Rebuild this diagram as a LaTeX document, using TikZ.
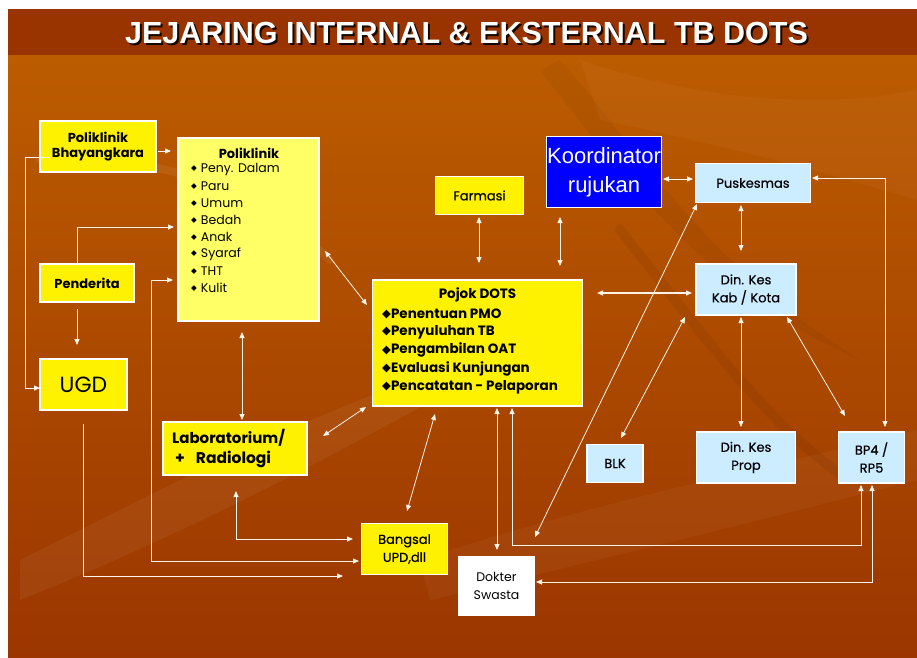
\documentclass[tikz,border=0pt]{standalone}
\usepackage{fontspec}
\setmainfont{Poppins}
\newfontfamily\popmed[FakeBold=0.5]{Poppins}
\newfontfamily\arialf{Liberation Sans}
\newfontfamily\symf{DejaVu Sans}
\usetikzlibrary{arrows.meta,calc}
\definecolor{bgtop}{HTML}{BC5C00}
\definecolor{bgbot}{HTML}{9B3600}
\definecolor{titlebar}{HTML}{993300}
\definecolor{ltyel}{HTML}{FFFF66}
\definecolor{ltblue}{HTML}{CCECFF}
\definecolor{kblue}{HTML}{0000FF}
\definecolor{lineclr}{HTML}{FFF4EA}
\begin{document}
\begin{tikzpicture}[x=1pt,y=-1pt,
  box/.style={draw=white, line width=1.3pt, inner sep=0pt, align=center, text=black},
  ybox/.style={box, fill=yellow},
  lybox/.style={box, fill=ltyel},
  bbox/.style={box, fill=ltblue},
  wbox/.style={box, fill=white},
  kbox/.style={box, fill=kblue, text=white},
  conn/.style={draw=lineclr, line width=0.8pt, {Triangle[length=6pt,width=5pt]}-{Triangle[length=6pt,width=5pt]}},
  conn1/.style={draw=lineclr, line width=0.8pt, -{Triangle[length=6pt,width=5pt]}},
  txt/.style={font=\fontsize{12.5}{14}\selectfont, text=black, inner sep=0pt},
  btxt/.style={font=\fontsize{13.5}{15}\selectfont\bfseries, text=black, inner sep=0pt},
  mtxt/.style={font=\popmed\fontsize{13}{18}\selectfont},
  deco/.style={line cap=round}
]
\useasboundingbox (0,0) rectangle (917,657);
\fill[white] (0,0) rectangle (917,657);
% background
\shade[top color=bgtop, bottom color=bgbot] (8,55) rectangle (917,657);
% decorative faint shapes
\begin{scope}[deco]
\fill[white, opacity=0.05] (20,560) .. controls (200,470) and (330,400) .. (560,330) .. controls (380,430) and (220,520) .. (20,600) -- cycle;
\fill[black, opacity=0.04] (560,60) .. controls (640,150) and (700,260) .. (860,360) .. controls (720,300) and (640,200) .. (540,70) -- cycle;
\fill[white, opacity=0.04] (420,560) .. controls (600,500) and (760,470) .. (917,430) -- (917,480) .. controls (760,520) and (600,560) .. (430,600) -- cycle;
\draw[white, opacity=0.06, line width=8pt] (40,160) .. controls (150,150) and (260,190) .. (330,260);
\draw[black, opacity=0.05, line width=10pt] (620,230) .. controls (700,330) and (770,430) .. (850,480);
\fill[white, opacity=0.03] (580,60) .. controls (700,100) and (820,110) .. (917,90) -- (917,200) .. controls (820,170) and (700,140) .. (600,120) -- cycle;
\end{scope}
% title bar
\fill[titlebar] (8,9) rectangle (917,55);
\node[font=\arialf\bfseries\fontsize{30.5}{32}\selectfont, text=black, opacity=0.85] (titleshadow) at (468.5,35) {JEJARING INTERNAL \& EKSTERNAL TB DOTS};
\node[font=\arialf\bfseries\fontsize{30.5}{32}\selectfont, text=white] (title) at (466.5,33) {JEJARING INTERNAL \& EKSTERNAL TB DOTS};

% boxes
\node[ybox, minimum width=116pt, minimum height=51pt] (bhay) at (98,146.5) {};
\node[btxt, font=\fontsize{13}{15}\selectfont\bfseries] (bhayt1) at (98,137) {Poliklinik};
\node[btxt, font=\fontsize{13}{15}\selectfont\bfseries] (bhayt2) at (98,154) {Bhayangkara};

\node[lybox, minimum width=141pt, minimum height=183pt] (poli) at (248.5,229.5) {};
\node[btxt, font=\fontsize{13}{15}\selectfont\bfseries] (polit) at (249,153) {Poliklinik};
\foreach \t [count=\i] in {Peny. Dalam,Paru,Umum,Bedah,Anak,Syaraf,THT,Kulit}{
  \node[txt, anchor=west] (polib\i) at (191,{152+17*\i}) {\raisebox{2pt}{\symf\fontsize{7.5}{8}\selectfont ◆}\hspace{4pt}\t};
}

\node[ybox, minimum width=94pt, minimum height=38pt, font=\fontsize{13}{15}\selectfont\bfseries] (pend) at (87,283) {Penderita};
\node[ybox, minimum width=87pt, minimum height=51pt, font=\fontsize{22}{24}\selectfont] (ugd) at (83.5,384.5) {UGD};

\node[ybox, minimum width=144pt, minimum height=53pt] (lab) at (235,448.5) {};
\node[btxt, anchor=west, font=\fontsize{15}{17}\selectfont\bfseries] (labt1) at (172,438) {Laboratorium/};
\node[btxt, anchor=west, font=\fontsize{15.5}{17}\selectfont\bfseries] (labt2) at (175,459) {+\hspace{11pt}Radiologi};

\node[ybox, minimum width=88pt, minimum height=38pt, mtxt] (farm) at (479.5,195.5) {Farmasi};

\node[kbox, minimum width=115pt, minimum height=71pt, font=\arialf\fontsize{22}{29}\selectfont] (koord) at (604,172) {Koordinator\\rujukan};

\node[ybox, minimum width=210pt, minimum height=126pt] (pojok) at (477.5,343) {};
\node[btxt] (pojokt) at (477.5,295) {Pojok DOTS};
\foreach \t [count=\i] in {Penentuan PMO,Penyuluhan TB,Pengambilan OAT,Evaluasi Kunjungan,Pencatatan - Pelaporan}{
  \node[btxt, anchor=west] (pojokb\i) at (382,{295.5+18.3*\i}) {\raisebox{0.5pt}{\symf\fontsize{11.5}{12}\selectfont ◆}\t};
}

\node[bbox, minimum width=115pt, minimum height=39pt, mtxt] (pusk) at (753,183) {Puskesmas};
\node[bbox, minimum width=100pt, minimum height=51pt, mtxt] (dkab) at (746,289.5) {Din. Kes\\Kab / Kota};
\node[bbox, minimum width=56pt, minimum height=38pt, mtxt] (blk) at (615,463.5) {BLK};
\node[bbox, minimum width=99pt, minimum height=51pt, mtxt] (dprop) at (746,457.5) {Din. Kes\\Prop};
\node[bbox, minimum width=66pt, minimum height=51pt, mtxt] (bp4) at (871.5,457.5) {BP4 /\\RP5};
\node[ybox, minimum width=86pt, minimum height=51pt, mtxt] (bangsal) at (404.5,549) {Bangsal\\UPD,dll};
\node[wbox, minimum width=76pt, minimum height=59pt, font=\fontsize{12.5}{18}\selectfont] (dokter) at (496.5,586) {Dokter\\Swasta};

% connector end points
\coordinate (a1) at (158,151); \coordinate (a2) at (171,151);
\coordinate (b1) at (77,263);  \coordinate (b2) at (174,227);
\coordinate (c1) at (77,309);  \coordinate (c2) at (77,345);
\coordinate (d1) at (50,157);  \coordinate (d2) at (40,388);
\coordinate (e1) at (173,280); \coordinate (e2) at (359,561);
\coordinate (f1) at (83,424);  \coordinate (f2) at (343,576);
\coordinate (g1) at (236,491); \coordinate (g2) at (353,539);
\coordinate (h1) at (242,332); \coordinate (h2) at (242,420);
\coordinate (i1) at (323,436); \coordinate (i2) at (366,407);
\coordinate (j1) at (325,251); \coordinate (j2) at (367,305);
\coordinate (k1) at (435,414); \coordinate (k2) at (407,511);
\coordinate (l1) at (497,408); \coordinate (l2) at (497,550);
\coordinate (m1) at (512,408); \coordinate (m2) at (861,485);
\coordinate (n1) at (536,582); \coordinate (n2) at (872,485);
\coordinate (o1) at (697,204); \coordinate (o2) at (535,537);
\coordinate (p1) at (685,317); \coordinate (p2) at (621,438);
\coordinate (q1) at (479,217); \coordinate (q2) at (479,263);
\coordinate (r1) at (560,217); \coordinate (r2) at (560,266);
\coordinate (s1) at (597,293); \coordinate (s2) at (692,293);
\coordinate (t1) at (663,179); \coordinate (t2) at (693,179);
\coordinate (u1) at (741,205); \coordinate (u2) at (741,251);
\coordinate (v1) at (741,317); \coordinate (v2) at (741,427);
\coordinate (w1) at (787,317); \coordinate (w2) at (845,416);
\coordinate (x1) at (812,178); \coordinate (x2) at (885,427);

% connectors
\draw[conn1] (a1) -- (a2);
\draw[conn1] (b1) |- (b2);
\draw[conn1] (c1) -- (c2);
\draw[conn1] (d1) -- (25,157) |- (d2);
\draw[conn] (e1) -- (151,280) |- (e2);
\draw[conn1] (f1) |- (f2);
\draw[conn] (g1) |- (g2);
\draw[conn] (h1) -- (h2);
\draw[conn] (i1) -- (i2);
\draw[conn] (j1) -- (j2);
\draw[conn] (k1) -- (k2);
\draw[conn] (l1) -- (l2);
\draw[conn] (m1) -- (512,545) -| (m2);
\draw[conn] (n1) -| (n2);
\draw[conn] (o1) -- (o2);
\draw[conn] (p1) -- (p2);
\draw[conn] (q1) -- (q2);
\draw[conn] (r1) -- (r2);
\draw[conn, line width=1.3pt] (s1) -- (s2);
\draw[conn] (t1) -- (t2);
\draw[conn] (u1) -- (u2);
\draw[conn] (v1) -- (v2);
\draw[conn] (w1) -- (w2);
\draw[conn] (x1) -| (x2);
\end{tikzpicture}
\end{document}
